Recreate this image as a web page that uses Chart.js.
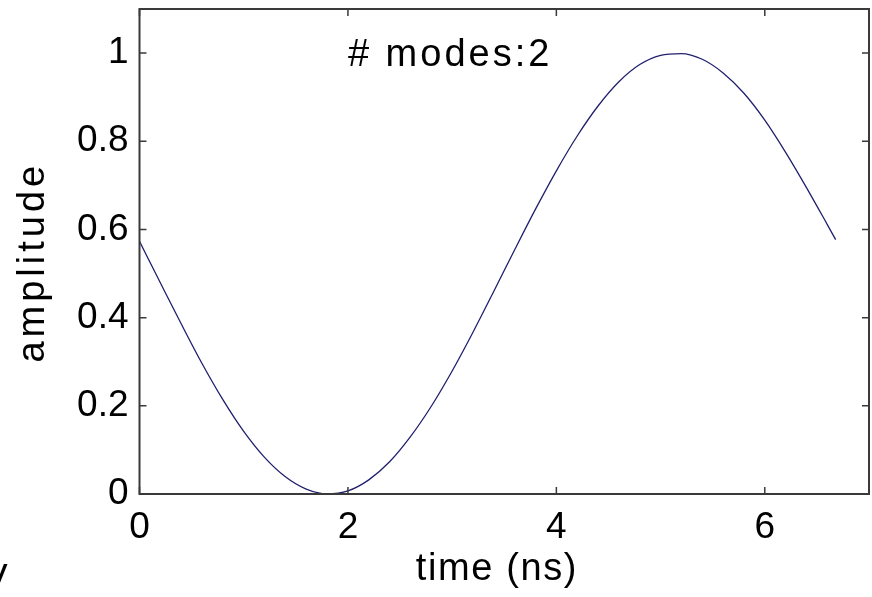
<!DOCTYPE html>
<html>
<head>
<meta charset="utf-8">
<script src="https://cdn.jsdelivr.net/npm/chart.js@4/dist/chart.umd.min.js"></script>
<style>
  html, body { margin: 0; padding: 0; background: #fff; }
  #plot { display: block; }
</style>
</head>
<body>
<canvas id="plot" width="872" height="597"></canvas>
<script>
// time axis (ns) and the sampled amplitude
const times = [0, 0.2, 0.4, 0.6, 0.8, 1.0, 1.2, 1.4, 1.6, 1.8, 2.0, 2.2, 2.4, 2.6, 2.8,
  3.0, 3.2, 3.4, 3.6, 3.8, 4.0, 4.2, 4.4, 4.6, 4.8, 5.0, 5.2, 5.4, 5.6, 5.8, 6.0,
  6.2, 6.4, 6.6, 6.68]
const amplitude = [0.573, 0.479, 0.386, 0.296, 0.214, 0.142, 0.083, 0.039, 0.011, 0.0,
  0.007, 0.032, 0.073, 0.130, 0.199, 0.279, 0.367, 0.460, 0.554, 0.646, 0.733,
  0.812, 0.880, 0.935, 0.974, 0.995, 0.999, 0.986, 0.955, 0.909, 0.848, 0.775,
  0.695, 0.611, 0.577]

const xTicks = [0, 2, 4, 6]
const yTicks = [0, 0.2, 0.4, 0.6, 0.8, 1]
const xTitle = 'time (ns)'
const yTitle = 'amplitude'
const noteText = '# modes:2'
const noteAt = { x: 2.0, y: 0.97 }

const fontFamily = '"Liberation Sans", Arial, Helvetica, sans-serif'
const axisColor = '#3a3a3a'

function drawText(ctx, text, x, y, size, spacing, angle) {
  ctx.save()
  ctx.translate(x, y)
  if (angle) ctx.rotate(angle)
  ctx.font = size + 'px ' + fontFamily
  ctx.letterSpacing = spacing + 'px'
  ctx.fillText(text, 0, 0)
  ctx.restore()
}

// box around the axes with inward ticks on every side, titles and the note
const framePlugin = {
  id: 'frame',
  afterDatasetsDraw(chart) {
    const { ctx, chartArea: a, scales } = chart
    const len = 7
    ctx.save()
    ctx.strokeStyle = axisColor
    ctx.lineWidth = 2
    ctx.strokeRect(a.left, a.top, a.right - a.left, a.bottom - a.top)
    ctx.lineWidth = 1.5
    ctx.beginPath()
    xTicks.forEach(v => {
      const px = scales.x.getPixelForValue(v)
      ctx.moveTo(px, a.bottom); ctx.lineTo(px, a.bottom - len)
      ctx.moveTo(px, a.top); ctx.lineTo(px, a.top + len)
    })
    yTicks.forEach(v => {
      const py = scales.y.getPixelForValue(v)
      ctx.moveTo(a.left, py); ctx.lineTo(a.left + len, py)
      ctx.moveTo(a.right, py); ctx.lineTo(a.right - len, py)
    })
    ctx.stroke()

    ctx.fillStyle = '#000'
    ctx.textAlign = 'left'
    ctx.textBaseline = 'alphabetic'
    drawText(ctx, noteText, scales.x.getPixelForValue(noteAt.x), scales.y.getPixelForValue(noteAt.y), 38, 3)

    ctx.textAlign = 'center'
    ctx.textBaseline = 'middle'
    drawText(ctx, xTitle, a.left + (a.right - a.left) * 0.49, 570, 38, 1.6)
    drawText(ctx, yTitle, 34, a.top + (a.bottom - a.top) * 0.522, 38, 4, -Math.PI / 2)

    // stray glyph at the lower left edge of the figure
    ctx.textAlign = 'left'
    ctx.textBaseline = 'alphabetic'
    drawText(ctx, 'V', -17, 590, 37, 0)
    ctx.restore()
  }
}

const ctx = document.getElementById('plot')
const chart = new Chart(ctx, {
  type: 'line',
  data: {
    datasets: [{
      data: times.map((t, i) => ({ x: t, y: amplitude[i] })),
      borderColor: '#20206e',
      borderWidth: 1.3,
      pointRadius: 0,
      cubicInterpolationMode: 'monotone',
      fill: false
    }]
  },
  options: {
    responsive: false,
    animation: false,
    devicePixelRatio: 1,
    layout: { padding: { top: 9, right: 3, left: 0, bottom: 0 } },
    plugins: {
      legend: { display: false },
      tooltip: { enabled: false }
    },
    scales: {
      x: {
        type: 'linear',
        min: 0,
        max: 7,
        afterBuildTicks(scale) { scale.ticks = xTicks.map(v => ({ value: v })) },
        afterFit(scale) {
          scale.height = 103
          scale.paddingLeft = 0
          scale.paddingRight = 0
        },
        grid: { display: false, drawTicks: false },
        border: { display: false },
        ticks: {
          color: '#000',
          padding: 12,
          maxRotation: 0,
          font: { family: fontFamily, size: 37 }
        }
      },
      y: {
        min: 0,
        max: 1.1,
        afterBuildTicks(scale) { scale.ticks = yTicks.map(v => ({ value: v })) },
        afterFit(scale) {
          scale.width = 139.5
          scale.paddingTop = 0
          scale.paddingBottom = 0
        },
        grid: { display: false, drawTicks: false },
        border: { display: false },
        ticks: {
          color: '#000',
          padding: 11,
          font: { family: fontFamily, size: 37 },
          callback: v => String(v)
        }
      }
    }
  },
  plugins: [framePlugin]
})
</script>
</body>
</html>
